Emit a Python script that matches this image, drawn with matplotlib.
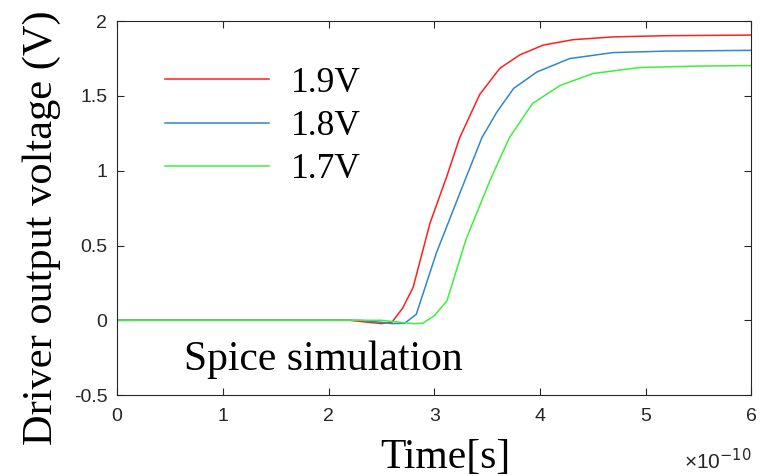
import numpy as np
import matplotlib
matplotlib.use("Agg")
import matplotlib.pyplot as plt

# time in units of 1e-10 s, voltage in V
t_19 = [0, 2.2, 2.4, 2.5, 2.6, 2.7, 2.8, 2.96, 3.12, 3.24, 3.43, 3.62, 3.81, 4.03, 4.31, 4.69, 5.2, 6.0]
v_19 = [0, 0, -0.015, -0.022, -0.012, 0.08, 0.22, 0.65, 0.965, 1.22, 1.51, 1.685, 1.775, 1.84, 1.876, 1.895, 1.903, 1.907]

t_18 = [0, 2.3, 2.45, 2.6, 2.72, 2.83, 3.02, 3.27, 3.45, 3.59, 3.75, 3.97, 4.28, 4.69, 5.2, 6.0]
v_18 = [0, 0, -0.01, -0.022, -0.02, 0.04, 0.45, 0.9, 1.22, 1.39, 1.55, 1.66, 1.75, 1.79, 1.8, 1.805]

t_17 = [0, 2.5, 2.7, 2.8, 2.89, 3.0, 3.12, 3.30, 3.53, 3.71, 3.93, 4.19, 4.5, 4.94, 5.5, 6.0]
v_17 = [0, 0, -0.015, -0.022, -0.02, 0.03, 0.13, 0.54, 0.94, 1.22, 1.45, 1.57, 1.65, 1.69, 1.7, 1.703]

labels = ["1.9V", "1.8V", "1.7V"]
colors = ["#ff1f1f", "#2f88c9", "#3cf03c"]

serif = ["Liberation Serif", "DejaVu Serif"]
sans = ["Liberation Sans", "DejaVu Sans"]
grey = "#262626"

fig = plt.figure(figsize=(7.72, 4.76), dpi=100)
ax = fig.add_axes([0.1516, 0.170, 0.8218, 0.7855])

for t, v, lab, c in zip([t_19, t_18, t_17], [v_19, v_18, v_17], labels, colors):
    ax.plot(t, v, color=c, lw=1.1, label=lab)

ax.set_xlim(0, 6)
ax.set_ylim(-0.5, 2)
ax.set_xticks(range(7))
ax.set_yticks([-0.5, 0, 0.5, 1, 1.5, 2])
ax.set_yticklabels(["-0.5", "0", "0.5", "1", "1.5", "2"])

ax.tick_params(direction="in", length=5, width=0.8, top=True, right=True,
               colors=grey, labelsize=14)
ax.tick_params(axis="x", pad=9)
ax.tick_params(axis="y", pad=7)
for lbl in ax.get_xticklabels() + ax.get_yticklabels():
    lbl.set_family(sans)
for s in ax.spines.values():
    s.set_color(grey)
    s.set_linewidth(0.8)

ax.set_xlabel("Time[s]", family=serif, fontsize=30)
ax.xaxis.set_label_coords(0.517, -0.115)
ax.set_ylabel("Driver output voltage (V)", family=serif, fontsize=30.5)
ax.yaxis.set_label_coords(-0.088, 0.448)

ax.text(1.0, -0.175, "\u00d710$^{-10}$", transform=ax.transAxes, ha="right", va="center",
        fontsize=15, color=grey, family=sans)

ax.text(0.105, 0.095, "Spice simulation", transform=ax.transAxes, family=serif, fontsize=30,
        va="center", ha="left")

ax.legend(loc="upper left", bbox_to_anchor=(0.075, 0.878), frameon=False,
          prop={"family": serif, "size": 25.5}, handlelength=2.95, handletextpad=0.62,
          labelspacing=0.29, borderpad=0, borderaxespad=0)

fig.savefig("out.png", dpi=100)
